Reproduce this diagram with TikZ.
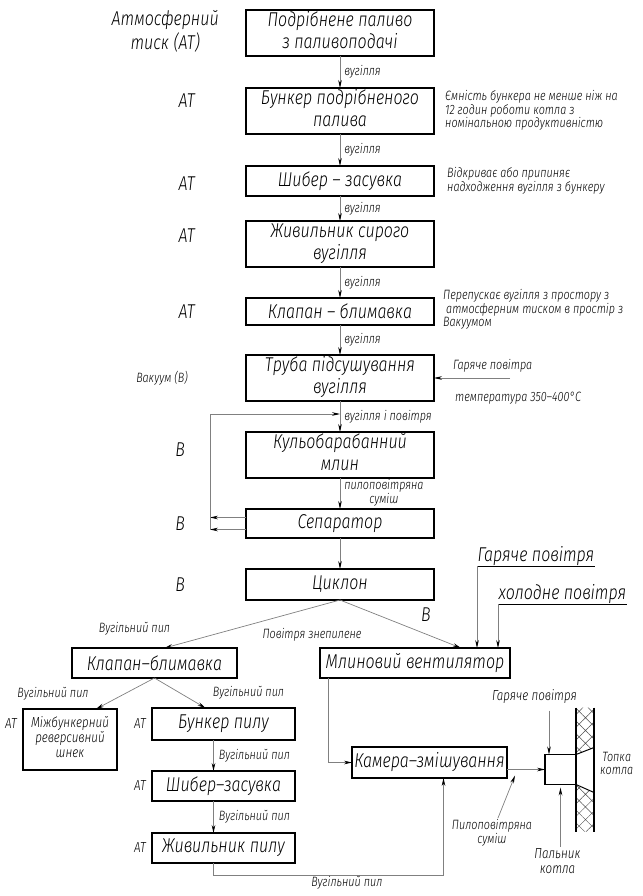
\documentclass[tikz,border=0pt]{standalone}
\usepackage{fontspec}
\IfFontExistsTF{Fira Sans Light}
  {\setmainfont{Fira Sans Light}[FakeStretch=0.8]}
  {\setmainfont{Liberation Sans}[FakeStretch=0.8]}
\usetikzlibrary{arrows, arrows.meta}
\usetikzlibrary{positioning}
\usetikzlibrary{patterns.meta}
\tikzset{
  block/.style={
    draw,
    line width=1.3pt,
    inner sep=1pt,
    outer sep=0pt,
    font=\fontsize{20}{22}\selectfont\itshape
  },
  flow/.style={
    draw=gray,
    line width=0.7pt,
    -{Stealth[length=8pt, width=3.6pt, color=black]}
  },
  lblbig/.style={inner sep=1pt, font=\fontsize{20}{23}\selectfont\itshape},
  lblmid/.style={inner sep=1pt, font=\fontsize{14.5}{15}\selectfont\itshape},
  lbl/.style={inner sep=1pt, font=\fontsize{13.5}{13}\selectfont\itshape},
  remark/.style={inner sep=1pt, font=\fontsize{13.5}{12}\selectfont\itshape}
}

\begin{document}
\begin{tikzpicture}
\useasboundingbox (0,0) rectangle (642pt,-896pt);

% Coal line
\node [block,
    minimum width=188pt,
    minimum height=46pt
] (fuel) at (340pt,-33pt) {\begin{tabular}{@{}c@{}} Подрібнене паливо \\ з паливоподачі \end{tabular}};

\node [block,
    minimum width=188pt,
    minimum height=45pt,
    below=32pt of fuel
] (bunker) {\begin{tabular}{@{}c@{}} Бункер подрібненого \\ палива \end{tabular}};

\node [block,
    minimum width=188pt,
    minimum height=30pt,
    below=32pt of bunker
] (gate) {Шибер – засувка};

\node [block,
    minimum width=188pt,
    minimum height=46pt,
    below=25pt of gate
] (feeder) {\begin{tabular}{@{}c@{}} Живильник сирого \\ вугілля \end{tabular}};

\node [block,
    minimum width=188pt,
    minimum height=27pt,
    below=31pt of feeder
] (valve) {Клапан – блимавка};

\node [block,
    minimum width=188pt,
    minimum height=46pt,
    below=30pt of valve
] (dryer) {\begin{tabular}{@{}c@{}} Труба підсушування \\ вугілля \end{tabular}};

\node [block,
    minimum width=188pt,
    minimum height=46pt,
    below=31pt of dryer
] (mill) {\begin{tabular}{@{}c@{}} Кульобарабанний \\ млин \end{tabular}};

\node [block,
    minimum width=188pt,
    minimum height=29pt,
    below=31pt of mill
] (separ) {Сепаратор};

\node [block,
    minimum width=188pt,
    minimum height=31pt,
    below=31pt of separ
] (cyclone) {Циклон};

\draw[flow] (fuel.south) -- (bunker.north) node[midway, right=3pt, lbl] {вугілля};
\draw[flow] (bunker.south) -- (gate.north) node[midway, right=3pt, lbl] {вугілля};
\draw[flow] (gate.south) -- (feeder.north) node[midway, right=3pt, lbl] {вугілля};
\draw[flow] (feeder.south) -- (valve.north) node[midway, right=3pt, lbl] {вугілля};
\draw[flow] (valve.south) -- (dryer.north) node[midway, right=3pt, lbl] {вугілля};
\draw[flow] (dryer.south) -- (mill.north) node[midway, right=3pt, lbl] {вугілля і повітря};
\draw[flow] (mill.south) -- (separ.north) node[midway, right=3pt, lbl]
    {\begin{tabular}{@{}c@{}} пилоповітряна \\ суміш \end{tabular}};
\draw[flow] (separ.south) -- (cyclone.north);

% Return from separator
\coordinate[below=13pt of dryer.south] (ref0);
\coordinate[left=36pt of separ.west, yshift=6pt] (ref1);
\coordinate[left=36pt of separ.west, yshift=-6pt] (ref2);
\draw[flow] ([yshift=6pt]separ.west) -- (ref1);
\draw[flow] ([yshift=-6pt]separ.west) -- (ref2);
\draw[flow] (ref2) |- (ref0);

% Pressure
\node[lblbig, left=26pt of fuel] (atm) {\begin{tabular}{@{}c@{}} Атмосферний \\ тиск (АТ) \end{tabular}};
\node[lblbig, left=50pt of bunker, yshift=10pt] (at0) {АТ};
\node[lblbig, left=50pt of gate, yshift=-3pt] (at1) {АТ};
\node[lblbig, left=50pt of feeder, yshift=8pt] (at2) {АТ};
\node[lblbig, left=50pt of valve] (at3) {АТ};
\node[lbl, left=57pt of dryer] (vac) {Вакуум (В)};
\node[lblbig, left=60pt of mill, yshift=5pt] (v0) {В};
\node[lblbig, left=60pt of separ] (v1) {В};
\node[lblbig, left=60pt of cyclone] (v2) {В};

% Remarks
\node[remark, right=10pt of bunker] (note0) {\begin{tabular}{@{}l@{}}
    Ємність бункера не менше ніж на \\ 12 годин роботи котла з \\ номінальною продуктивністю \end{tabular}};
\node[remark, right=12pt of gate] (note1) {\begin{tabular}{@{}l@{}}
    Відкриває або припиняє \\ надходження вугілля з бункеру \end{tabular}};
\node[remark, right=8pt of valve, yshift=2pt] (note2) {\begin{tabular}{@{}l@{}}
    Перепускає вугілля з простору з \\ \hspace*{3pt}атмосферним тиском в простір з \\ Вакуумом \end{tabular}};

\coordinate[right=76pt of dryer] (ref3);
\draw[flow] (ref3) -- (dryer.east);
\node[lbl, above right=5pt and 18pt of dryer.east] (hot0) {Гаряче повітра};
\node[lbl, below right=13pt and 20pt of dryer.east] (temp) {температура 350–400°C};

% After cyclone
\node [block,
    minimum width=165pt,
    minimum height=30pt,
    below left=48pt and 9pt of cyclone
] (valve2) {Клапан–блимавка};

\node [block,
    minimum width=190pt,
    minimum height=30pt,
    below right=48pt and -114pt of cyclone
] (fan) {Млиновий вентилятор};

\draw[flow] (cyclone.south) -- ([xshift=10pt]valve2.north);
\draw[flow] (cyclone.south) -- ([xshift=46pt]fan.north);
\node[lbl, above=12pt of valve2, xshift=-20pt] (dust0) {Вугільний пил};
\node[lbl, below=27pt of cyclone, xshift=-28pt] (clean) {Повітря знепилене};
\node[lblbig, below=7pt of cyclone.south east, xshift=-8pt] (v3) {В};

\node[lblbig, inner sep=0.5pt, above right=82pt and -33pt of fan.north east] (hot1) {Гаряче повітря};
\node[lblbig, inner sep=0.5pt, above right=44pt and -12pt of fan.north east] (cold) {холодне повітря};
\draw[line width=0.8pt] (hot1.south east) -- (hot1.south west);
\draw[line width=0.8pt] (cold.south east) -- (cold.south west);
\draw[flow] (hot1.south west) -- (hot1.south west |- fan.north);
\draw[flow] (cold.south west) -- (cold.south west |- fan.north);

% Dust line
\node [block,
    minimum width=94pt,
    minimum height=61pt,
    font=\fontsize{14.5}{15}\selectfont\itshape,
    below left=31pt and -45pt of valve2
] (screw) {\begin{tabular}{@{}c@{}} Міжбункерний \\ реверсивний \\ шнек \end{tabular}};

\node [block,
    minimum width=143pt,
    minimum height=32pt,
    below right=30pt and -85pt of valve2
] (dusthop) {Бункер пилу};

\node [block,
    minimum width=143pt,
    minimum height=30pt,
    below=31pt of dusthop
] (dustgate) {Шибер–засувка};

\node [block,
    minimum width=143pt,
    minimum height=30pt,
    below=32pt of dustgate
] (dustfeed) {Живильник пилу};

\draw[flow] (valve2.south) -- ([xshift=26pt]screw.north);
\draw[flow] (valve2.south) -- ([xshift=-18pt]dusthop.north);
\node[lbl, above=8pt of screw, xshift=-17pt] (dust1) {Вугільний пил};
\node[lbl, above=8pt of dusthop, xshift=25pt] (dust2) {Вугільний пил};

\draw[flow] ([xshift=-10pt]dusthop.south) -- ([xshift=-10pt]dustgate.north)
    node[midway, right=4pt, lbl] {Вугільний пил};
\draw[flow] ([xshift=-10pt]dustgate.south) -- ([xshift=-10pt]dustfeed.north)
    node[midway, right=4pt, lbl] {Вугільний пил};

\node[lblmid, left=5pt of screw, yshift=16pt] (at4) {АТ};
\node[lblmid, left=5pt of dusthop] (at5) {АТ};
\node[lblmid, left=5pt of dustgate] (at6) {АТ};
\node[lblmid, left=5pt of dustfeed] (at7) {АТ};

\node [block,
    minimum width=155pt,
    minimum height=31pt,
    below right=69pt and 32pt of fan.south west
] (mixer) {Камера–змішування};

\draw[flow] ([xshift=8pt]fan.south west) |- (mixer.west);
\coordinate[below=12pt of dustfeed.south] (ref4);
\draw[flow] ([xshift=-10pt]dustfeed.south) -- ([xshift=-10pt]ref4) -| ([xshift=14pt]mixer.south)
    node[pos=0.29, below, lbl] {Вугільний пил};

% Burner
\node [draw,
    line width=1.5pt,
    outer sep=0pt,
    minimum width=31pt,
    minimum height=30pt,
    right=38pt of mixer,
    yshift=-7pt
] (burner) {};

\draw[flow] (mixer.east |- burner.west) -- (burner.west);
\node[lbl, below=40pt of mixer.south east, xshift=-15pt] (dustair)
    {\begin{tabular}{@{}c@{}} Пилоповітряна \\ суміш \end{tabular}};
\path (mixer.east |- burner.west) ++(8pt,-6pt) coordinate (ref5);
\draw[flow] ([xshift=6pt]dustair.north) -- (ref5);

\node[lblmid, above=50pt of burner, xshift=-26pt] (hot2) {Гаряче повітря};
\coordinate[above=44pt of burner.north west, xshift=4pt] (ref6);
\draw[flow] (ref6) -- ([xshift=4pt]burner.north west);

\node[lblmid, below=62pt of burner, xshift=-3pt] (burnlbl)
    {\begin{tabular}{@{}c@{}} Пальник \\ котла \end{tabular}};
\draw[flow, shorten >=3pt] ([xshift=3pt]burnlbl.north) -- (burner.south);

% Furnace wall
\coordinate[above=47pt of burner.north east] (wtl);
\coordinate[below=47pt of burner.south east] (wbl);
\coordinate[right=18pt of wtl] (wtr);
\coordinate[right=18pt of wbl] (wbr);
\coordinate[above right=7pt and 18pt of burner.north east] (wol);
\coordinate[below right=8pt and 18pt of burner.south east] (wor);
\fill[pattern={Hatch[distance=9pt, angle=45, line width=0.5pt]}, pattern color=black!70]
    (wtl) -- (wtr) -- (wol) -- (burner.north east) -- cycle;
\fill[pattern={Hatch[distance=9pt, angle=45, line width=0.5pt]}, pattern color=black!70]
    (burner.south east) -- (wor) -- (wbr) -- (wbl) -- cycle;
\draw[line width=1.4pt] (wtl) -- (wbl);
\draw[line width=1.4pt] (wtr) -- (wbr);
\draw[line width=1pt] (burner.north east) -- (wol);
\draw[line width=1pt] (burner.south east) -- (wor);

\coordinate[right=18pt of burner.east] (ref7);
\node[lbl, right=5pt of ref7, yshift=4pt] (furnace)
    {\begin{tabular}{@{}c@{}} Топка \\ котла \end{tabular}};

\end{tikzpicture}
\end{document}
